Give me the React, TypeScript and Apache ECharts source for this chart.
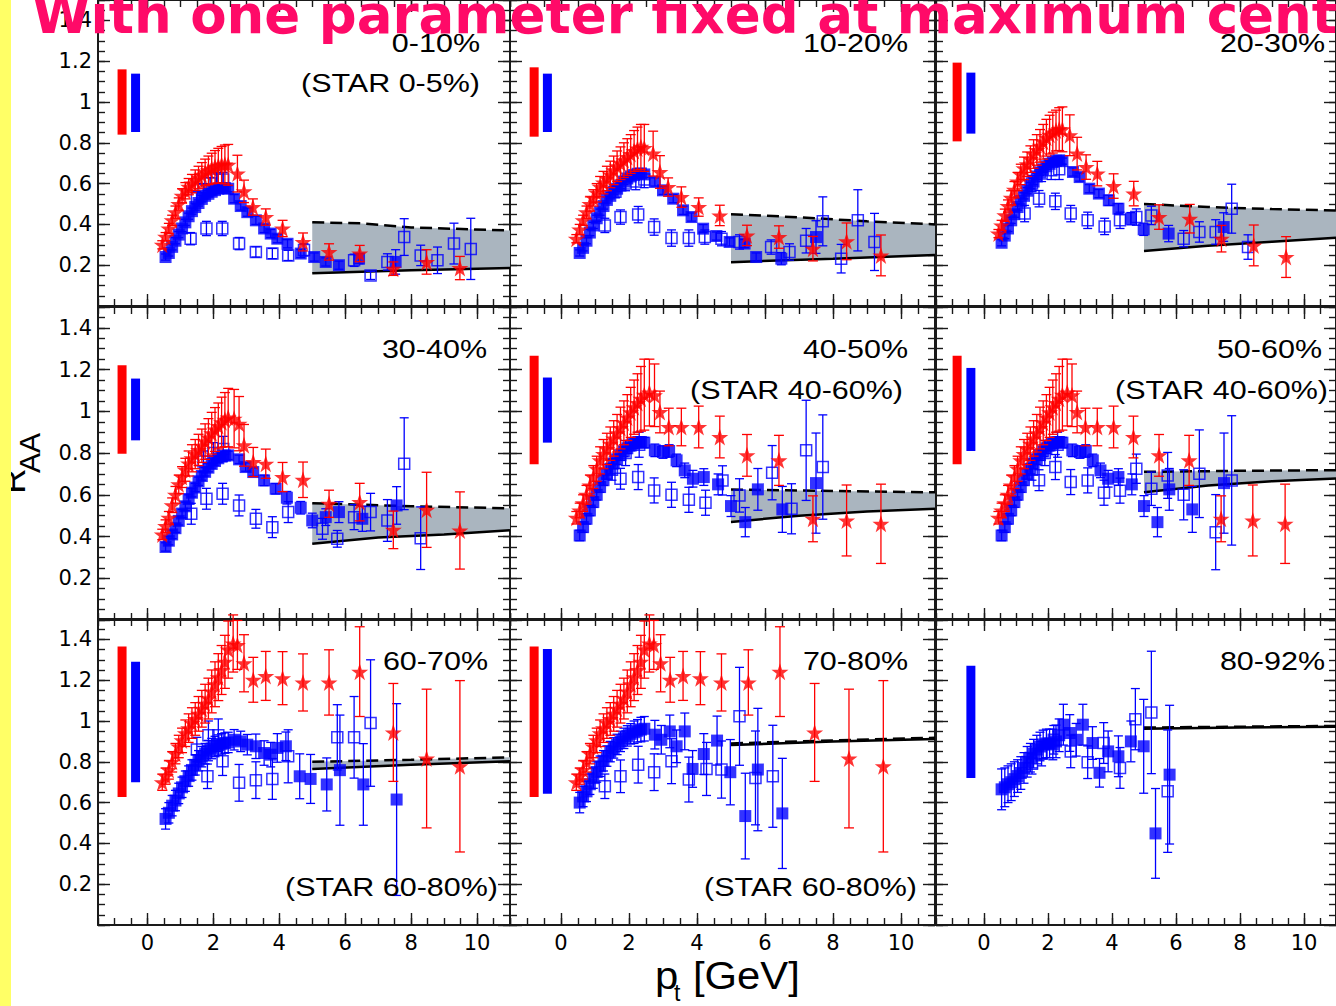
import React, { useEffect, useRef } from "react";
import * as echarts from "echarts";

// ---------- shared axis data ----------
const LOW_PT = [0.45, 0.55, 0.65, 0.75, 0.85, 0.95, 1.05, 1.15, 1.25, 1.35, 1.45, 1.55, 1.65, 1.75, 1.85, 1.95, 2.05, 2.15, 2.25, 2.35, 2.45];
const X_MAJOR_TICKS = [0, 2, 4, 6, 8, 10];
const Y_TICK_VALUES = [0.2, 0.4, 0.6, 0.8, 1, 1.2, 1.4];
const Y_TICK_LABELS = ["0.2", "0.4", "0.6", "0.8", "1", "1.2", "1.4"];
const CENTRALITY = ["0-10%", "10-20%", "20-30%", "30-40%", "40-50%", "50-60%", "60-70%", "70-80%", "80-92%"];
const STAR_NOTE = ["(STAR 0-5%)", "", "", "", "(STAR 40-60%)", "(STAR 40-60%)", "(STAR 60-80%)", "(STAR 60-80%)", ""];

// ---------- panel 1 (0-10%) ----------
const P1_RED_LOW = [0.30, 0.34, 0.38, 0.42, 0.46, 0.50, 0.54, 0.565, 0.585, 0.60, 0.617, 0.63, 0.643, 0.655, 0.665, 0.674, 0.682, 0.688, 0.692, 0.694, 0.692];
const P1_RED_LOW_ERR = [0.02, 0.02, 0.025, 0.025, 0.03, 0.03, 0.035, 0.04, 0.04, 0.045, 0.05, 0.055, 0.06, 0.065, 0.07, 0.075, 0.08, 0.085, 0.09, 0.095, 0.1];
const P1_RED_HIGH = [[2.73, 0.649, 0.09], [2.93, 0.562, 0.055], [3.2, 0.485, 0.04], [3.59, 0.436, 0.04], [4.1, 0.38, 0.04], [4.72, 0.314, 0.044], [5.51, 0.265, 0.04], [6.44, 0.257, 0.04], [7.46, 0.183, 0.033], [8.47, 0.216, 0.06], [9.48, 0.186, 0.057]];
const P1_BLUE_LOW = [null, 0.24, 0.26, 0.29, 0.32, 0.35, 0.38, 0.41, 0.44, 0.465, 0.485, 0.505, 0.525, 0.54, 0.55, 0.56, 0.568, 0.575, 0.578, 0.578, 0.575];
const P1_BLUE_LOW_ERR = [0.015, 0.015, 0.015, 0.015, 0.015, 0.015, 0.015, 0.015, 0.015, 0.015, 0.015, 0.015, 0.015, 0.015, 0.015, 0.015, 0.015, 0.015, 0.015, 0.015, 0.015];
const P1_BLUE_HIGH = [[2.63, 0.526, 0.02], [2.83, 0.49, 0.02], [3.03, 0.46, 0.02], [3.29, 0.42, 0.02], [3.54, 0.38, 0.02], [3.74, 0.355, 0.02], [3.94, 0.33, 0.02], [4.25, 0.305, 0.02], [4.65, 0.257, 0.02], [5.06, 0.24, 0.02], [5.41, 0.216, 0.02], [5.81, 0.2, 0.02], [6.42, 0.232, 0.025], [7.53, 0.216, 0.06]];
const P1_OPEN = [[1.31, 0.33, 0.03], [1.5, 0.53, 0.03], [1.7, 0.57, 0.03], [1.79, 0.38, 0.035], [1.9, 0.6, 0.03], [2.1, 0.62, 0.035], [2.27, 0.38, 0.035], [2.3, 0.62, 0.035], [2.78, 0.306, 0.03], [3.29, 0.265, 0.025], [3.79, 0.257, 0.025], [4.27, 0.248, 0.025], [4.75, 0.275, 0.03], [6.27, 0.224, 0.03], [6.77, 0.15, 0.02], [7.28, 0.216, 0.04], [7.79, 0.338, 0.09], [8.29, 0.248, 0.05], [8.8, 0.224, 0.065], [9.3, 0.306, 0.1], [9.81, 0.28, 0.15]];
const P1_BAND_TOP = [[5, 0.41], [6.5, 0.405], [8, 0.385], [11, 0.37]];
const P1_BAND_BOTTOM = [[5, 0.16], [8, 0.175], [11, 0.186]];
const P1_SYS_RED = [-0.77, 0.84, 1.16];
const P1_SYS_BLUE = [-0.36, 0.853, 1.139];

// ---------- panel 2 (10-20%) ----------
const P2_RED_LOW = [0.33, 0.375, 0.42, 0.46, 0.50, 0.53, 0.555, 0.585, 0.605, 0.625, 0.645, 0.665, 0.685, 0.70, 0.715, 0.73, 0.745, 0.76, 0.772, 0.78, 0.775];
const P2_RED_LOW_ERR = [0.02, 0.025, 0.025, 0.03, 0.035, 0.04, 0.045, 0.05, 0.055, 0.06, 0.065, 0.07, 0.075, 0.08, 0.085, 0.09, 0.095, 0.1, 0.105, 0.11, 0.115];
const P2_RED_HIGH = [[2.71, 0.747, 0.11], [2.91, 0.657, 0.08], [3.15, 0.583, 0.045], [3.54, 0.534, 0.05], [4.05, 0.485, 0.045], [4.67, 0.444, 0.05], [5.47, 0.346, 0.05], [6.41, 0.338, 0.055], [7.41, 0.281, 0.06], [8.4, 0.317, 0.09], [9.41, 0.248, 0.1]];
const P2_BLUE_LOW = [null, 0.26, 0.285, 0.32, 0.36, 0.395, 0.43, 0.46, 0.49, 0.52, 0.54, 0.56, 0.575, 0.59, 0.61, 0.625, 0.635, 0.642, 0.648, 0.65, 0.645];
const P2_BLUE_LOW_ERR = [0.015, 0.015, 0.015, 0.015, 0.015, 0.015, 0.015, 0.015, 0.015, 0.015, 0.015, 0.015, 0.015, 0.015, 0.015, 0.015, 0.015, 0.015, 0.015, 0.015, 0.015];
const P2_BLUE_HIGH = [[2.76, 0.608, 0.02], [3.0, 0.567, 0.02], [3.3, 0.526, 0.02], [3.59, 0.469, 0.02], [3.84, 0.436, 0.02], [4.18, 0.379, 0.02], [4.57, 0.343, 0.02], [4.96, 0.314, 0.02], [5.4, 0.306, 0.02], [5.74, 0.24, 0.02], [6.48, 0.232, 0.03], [7.5, 0.338, 0.08]];
const P2_OPEN = [[1.29, 0.395, 0.035], [1.6, 0.56, 0.03], [1.75, 0.436, 0.035], [1.9, 0.6, 0.035], [2.2, 0.61, 0.04], [2.27, 0.448, 0.04], [2.45, 0.62, 0.04], [2.74, 0.387, 0.04], [3.25, 0.333, 0.04], [3.76, 0.333, 0.04], [4.23, 0.338, 0.035], [4.72, 0.33, 0.035], [5.25, 0.314, 0.035], [6.18, 0.289, 0.035], [6.72, 0.265, 0.04], [7.21, 0.32, 0.06], [7.7, 0.415, 0.12], [8.24, 0.232, 0.07], [8.73, 0.42, 0.15], [9.22, 0.314, 0.14]];
const P2_BAND_TOP = [[5, 0.45], [7, 0.435], [9, 0.415], [11, 0.40]];
const P2_BAND_BOTTOM = [[5, 0.215], [8, 0.232], [11, 0.25]];
const P2_SYS_RED = [-0.79, 0.83, 1.17];
const P2_SYS_BLUE = [-0.40, 0.853, 1.139];

// ---------- panel 3 (20-30%) ----------
const P3_RED_LOW = [0.355, 0.395, 0.445, 0.49, 0.53, 0.57, 0.61, 0.645, 0.675, 0.695, 0.72, 0.745, 0.765, 0.785, 0.805, 0.825, 0.84, 0.85, 0.86, 0.867, 0.866];
const P3_RED_LOW_ERR = [0.02, 0.025, 0.03, 0.03, 0.035, 0.04, 0.045, 0.05, 0.055, 0.06, 0.065, 0.07, 0.075, 0.08, 0.085, 0.09, 0.095, 0.1, 0.1, 0.105, 0.11];
const P3_RED_HIGH = [[2.68, 0.837, 0.1], [2.91, 0.747, 0.08], [3.19, 0.681, 0.06], [3.54, 0.649, 0.06], [4.05, 0.588, 0.06], [4.68, 0.551, 0.06], [5.47, 0.436, 0.06], [6.43, 0.428, 0.07], [7.42, 0.33, 0.065], [8.43, 0.297, 0.1], [9.44, 0.24, 0.1]];
const P3_BLUE_LOW = [null, 0.31, 0.345, 0.38, 0.42, 0.45, 0.485, 0.515, 0.54, 0.565, 0.59, 0.61, 0.635, 0.655, 0.67, 0.685, 0.697, 0.706, 0.712, 0.714, 0.71];
const P3_BLUE_LOW_ERR = [0.015, 0.015, 0.015, 0.015, 0.015, 0.015, 0.015, 0.015, 0.015, 0.015, 0.015, 0.015, 0.015, 0.015, 0.015, 0.015, 0.015, 0.015, 0.015, 0.015, 0.015];
const P3_BLUE_HIGH = [[2.78, 0.657, 0.02], [2.99, 0.632, 0.02], [3.29, 0.575, 0.02], [3.59, 0.551, 0.02], [3.9, 0.518, 0.025], [4.2, 0.477, 0.025], [4.59, 0.428, 0.03], [4.99, 0.376, 0.03], [5.77, 0.355, 0.04], [7.49, 0.387, 0.07]];
const P3_OPEN = [[1.27, 0.453, 0.04], [1.5, 0.6, 0.04], [1.72, 0.526, 0.04], [1.8, 0.65, 0.04], [2.1, 0.665, 0.045], [2.23, 0.513, 0.04], [2.35, 0.67, 0.05], [2.71, 0.453, 0.04], [3.24, 0.42, 0.04], [3.77, 0.39, 0.04], [4.25, 0.42, 0.04], [4.76, 0.436, 0.04], [5.23, 0.444, 0.045], [6.24, 0.33, 0.04], [6.73, 0.363, 0.05], [7.24, 0.363, 0.06], [7.74, 0.477, 0.12], [8.25, 0.289, 0.06]];
const P3_BAND_TOP = [[5, 0.50], [7, 0.485], [9, 0.475], [11, 0.468]];
const P3_BAND_BOTTOM = [[5, 0.27], [7, 0.295], [9, 0.315], [11, 0.335]];
const P3_SYS_RED = [-0.84, 0.807, 1.193];
const P3_SYS_BLUE = [-0.41, 0.845, 1.144];

// ---------- panel 4 (30-40%) ----------
const P4_RED_LOW = [0.41, 0.45, 0.49, 0.55, 0.60, 0.65, 0.685, 0.72, 0.75, 0.775, 0.795, 0.815, 0.835, 0.855, 0.875, 0.895, 0.913, 0.93, 0.948, 0.96, 0.97];
const P4_RED_LOW_ERR = [0.025, 0.03, 0.03, 0.035, 0.04, 0.045, 0.05, 0.055, 0.06, 0.065, 0.07, 0.075, 0.08, 0.085, 0.09, 0.1, 0.105, 0.11, 0.12, 0.13, 0.14];
const P4_RED_HIGH = [[2.63, 0.965, 0.14], [2.78, 0.941, 0.13], [2.93, 0.837, 0.1], [3.21, 0.757, 0.07], [3.59, 0.749, 0.07], [4.1, 0.685, 0.07], [4.72, 0.672, 0.085], [5.51, 0.557, 0.065], [6.44, 0.565, 0.09], [7.46, 0.432, 0.09], [8.47, 0.528, 0.18], [9.48, 0.429, 0.185]];
const P4_BLUE_LOW = [null, 0.35, 0.38, 0.41, 0.44, 0.475, 0.51, 0.545, 0.58, 0.61, 0.635, 0.665, 0.69, 0.71, 0.73, 0.748, 0.762, 0.775, 0.783, 0.788, 0.789];
const P4_BLUE_LOW_ERR = [0.02, 0.02, 0.02, 0.02, 0.02, 0.02, 0.02, 0.02, 0.02, 0.02, 0.02, 0.02, 0.02, 0.02, 0.02, 0.02, 0.02, 0.02, 0.02, 0.02, 0.02];
const P4_BLUE_HIGH = [[2.78, 0.77, 0.02], [2.98, 0.733, 0.02], [3.21, 0.709, 0.02], [3.54, 0.669, 0.025], [3.89, 0.629, 0.025], [4.23, 0.586, 0.03], [4.65, 0.538, 0.03], [5.0, 0.477, 0.035], [5.41, 0.493, 0.04], [5.81, 0.517, 0.05], [6.52, 0.485, 0.06], [7.56, 0.549, 0.09]];
const P4_OPEN = [[1.33, 0.509, 0.05], [1.7, 0.76, 0.05], [1.79, 0.581, 0.05], [2.0, 0.8, 0.05], [2.28, 0.605, 0.05], [2.3, 0.82, 0.06], [2.78, 0.549, 0.05], [3.29, 0.485, 0.045], [3.79, 0.445, 0.05], [4.27, 0.517, 0.05], [5.31, 0.437, 0.05], [5.76, 0.389, 0.04], [6.27, 0.493, 0.06], [6.77, 0.517, 0.09], [7.28, 0.477, 0.1], [7.79, 0.749, 0.22], [8.29, 0.392, 0.15]];
const P4_BAND_TOP = [[5, 0.56], [8, 0.545], [11, 0.535]];
const P4_BAND_BOTTOM = [[5, 0.365], [7, 0.395], [9, 0.41], [11, 0.43]];
const P4_SYS_RED = [-0.77, 0.797, 1.221];
const P4_SYS_BLUE = [-0.36, 0.861, 1.157];

// ---------- panels 5 & 6 (STAR 40-60%) ----------
const P56_RED_LOW = [0.49, 0.525, 0.56, 0.60, 0.645, 0.685, 0.725, 0.765, 0.795, 0.82, 0.845, 0.87, 0.895, 0.92, 0.945, 0.97, 0.995, 1.02, 1.04, 1.06, 1.08];
const P56_RED_LOW_ERR = [0.03, 0.035, 0.04, 0.045, 0.05, 0.055, 0.06, 0.065, 0.07, 0.075, 0.08, 0.085, 0.09, 0.1, 0.105, 0.11, 0.12, 0.13, 0.14, 0.155, 0.17];
const P56_RED_HIGH = [[2.6, 1.09, 0.16], [2.75, 1.077, 0.15], [2.91, 0.997, 0.1], [3.17, 0.925, 0.09], [3.54, 0.925, 0.09], [4.05, 0.925, 0.1], [4.67, 0.877, 0.1], [5.47, 0.789, 0.1], [6.41, 0.765, 0.12], [7.41, 0.485, 0.11], [8.4, 0.477, 0.17], [9.41, 0.461, 0.19]];
const P56_BLUE_LOW = [null, 0.405, 0.445, 0.485, 0.525, 0.565, 0.60, 0.637, 0.67, 0.70, 0.725, 0.75, 0.77, 0.79, 0.808, 0.823, 0.836, 0.846, 0.852, 0.853, 0.85];
const P56_BLUE_LOW_ERR = [0.025, 0.025, 0.025, 0.025, 0.025, 0.025, 0.025, 0.025, 0.025, 0.025, 0.025, 0.025, 0.025, 0.025, 0.025, 0.025, 0.025, 0.025, 0.025, 0.025, 0.025];
const P56_BLUE_HIGH = [[2.76, 0.813, 0.03], [3.0, 0.805, 0.03], [3.18, 0.81, 0.03], [3.4, 0.765, 0.03], [3.64, 0.717, 0.035], [3.88, 0.677, 0.04], [4.2, 0.685, 0.04], [4.62, 0.65, 0.05], [5.0, 0.546, 0.05], [5.42, 0.469, 0.07], [5.79, 0.626, 0.1], [6.51, 0.53, 0.11], [7.5, 0.656, 0.24]];
const P5_OPEN = [[1.5, 0.72, 0.05], [1.75, 0.677, 0.05], [1.9, 0.8, 0.06], [2.27, 0.685, 0.06], [2.3, 0.84, 0.06], [2.74, 0.621, 0.06], [3.25, 0.6, 0.06], [3.76, 0.576, 0.06], [4.25, 0.562, 0.06], [4.75, 0.669, 0.07], [5.25, 0.597, 0.08], [6.21, 0.706, 0.13], [6.78, 0.533, 0.12], [7.21, 0.813, 0.24], [7.7, 0.733, 0.25]];
const P5_BAND_TOP = [[5, 0.625], [8, 0.618], [11, 0.612]];
const P5_BAND_BOTTOM = [[5, 0.47], [7, 0.5], [9, 0.52], [11, 0.533]];
const P5_SYS_RED = [-0.79, 0.746, 1.266];
const P5_SYS_BLUE = [-0.40, 0.85, 1.162];
const P6_OPEN = [[1.5, 0.72, 0.05], [1.72, 0.67, 0.05], [1.9, 0.8, 0.06], [2.23, 0.733, 0.06], [2.3, 0.84, 0.06], [2.71, 0.661, 0.06], [3.24, 0.669, 0.06], [3.75, 0.61, 0.06], [4.25, 0.62, 0.06], [4.76, 0.725, 0.07], [5.23, 0.629, 0.08], [5.74, 0.693, 0.11], [6.24, 0.6, 0.12], [6.73, 0.701, 0.21], [7.24, 0.421, 0.18], [7.74, 0.669, 0.31]];
const P6_BAND_TOP = [[5, 0.71], [8, 0.715], [11, 0.718]];
const P6_BAND_BOTTOM = [[5, 0.612], [7, 0.645], [9, 0.665], [11, 0.678]];
const P6_SYS_RED = [-0.84, 0.746, 1.266];
const P6_SYS_BLUE = [-0.41, 0.81, 1.208];

// ---------- panels 7 & 8 (STAR 60-80%) ----------
const P78_RED_LOW = [0.70, 0.73, 0.76, 0.80, 0.84, 0.875, 0.905, 0.94, 0.965, 0.99, 1.01, 1.035, 1.06, 1.085, 1.11, 1.145, 1.18, 1.215, 1.25, 1.29, 1.35];
const P78_RED_LOW_ERR = [0.04, 0.04, 0.045, 0.05, 0.05, 0.055, 0.06, 0.065, 0.07, 0.075, 0.08, 0.085, 0.09, 0.095, 0.1, 0.105, 0.11, 0.115, 0.12, 0.13, 0.14];
const P78_RED_HIGH = [[2.6, 1.38, 0.14], [2.73, 1.373, 0.12], [2.93, 1.283, 0.14], [3.21, 1.202, 0.11], [3.59, 1.221, 0.12], [4.1, 1.21, 0.13], [4.72, 1.189, 0.14], [5.51, 1.189, 0.16], [6.44, 1.242, 0.22], [7.46, 0.944, 0.24], [8.47, 0.816, 0.34], [9.48, 0.778, 0.42]];
const P7_BLUE_LOW = [null, 0.52, 0.55, 0.585, 0.61, 0.645, 0.675, 0.705, 0.73, 0.76, 0.785, 0.805, 0.825, 0.84, 0.855, 0.865, 0.875, 0.882, 0.888, 0.892, 0.895];
const P7_BLUE_LOW_ERR = [0.05, 0.05, 0.05, 0.05, 0.05, 0.05, 0.05, 0.05, 0.05, 0.05, 0.05, 0.05, 0.05, 0.05, 0.05, 0.05, 0.05, 0.05, 0.05, 0.05, 0.05];
const P7_BLUE_HIGH = [[2.63, 0.908, 0.05], [2.83, 0.9, 0.05], [3.03, 0.884, 0.05], [3.29, 0.876, 0.06], [3.54, 0.843, 0.06], [3.74, 0.835, 0.06], [3.94, 0.868, 0.07], [4.2, 0.876, 0.07], [4.62, 0.729, 0.11], [4.95, 0.716, 0.12], [5.44, 0.689, 0.13], [5.84, 0.759, 0.27], [6.55, 0.689, 0.2], [7.56, 0.615, 0.47]];
const P7_OPEN = [[1.5, 0.86, 0.06], [1.82, 0.729, 0.06], [1.85, 0.93, 0.07], [2.15, 0.93, 0.08], [2.28, 0.803, 0.07], [2.78, 0.697, 0.09], [3.29, 0.71, 0.09], [3.79, 0.716, 0.1], [4.27, 0.827, 0.13], [5.76, 0.92, 0.16], [6.27, 0.92, 0.2], [6.77, 0.99, 0.31]];
const P7_BAND_TOP = [[5, 0.80], [8, 0.81], [11, 0.822]];
const P7_BAND_BOTTOM = [[5, 0.765], [8, 0.785], [11, 0.803]];
const P7_SYS_RED = [-0.77, 0.628, 1.365];
const P7_SYS_BLUE = [-0.36, 0.70, 1.291];
const P8_BLUE_LOW = [null, 0.60, 0.63, 0.655, 0.69, 0.72, 0.75, 0.778, 0.805, 0.828, 0.85, 0.868, 0.885, 0.9, 0.915, 0.927, 0.937, 0.945, 0.952, 0.958, 0.962];
const P8_BLUE_LOW_ERR = [0.05, 0.05, 0.05, 0.05, 0.05, 0.05, 0.05, 0.05, 0.05, 0.05, 0.05, 0.05, 0.05, 0.05, 0.05, 0.05, 0.05, 0.055, 0.055, 0.06, 0.06];
const P8_BLUE_HIGH = [[2.76, 0.933, 0.07], [2.95, 0.908, 0.07], [3.2, 0.949, 0.08], [3.4, 0.876, 0.08], [3.64, 0.949, 0.09], [3.87, 0.765, 0.09], [4.2, 0.838, 0.1], [4.59, 0.904, 0.12], [4.98, 0.749, 0.16], [5.42, 0.534, 0.21], [5.79, 0.762, 0.3], [6.51, 0.547, 0.27]];
const P8_OPEN = [[1.29, 0.68, 0.06], [1.75, 0.729, 0.08], [2.27, 0.786, 0.09], [2.74, 0.749, 0.09], [3.25, 0.803, 0.11], [3.76, 0.713, 0.11], [4.28, 0.765, 0.13], [4.72, 0.762, 0.14], [5.25, 1.023, 0.24], [5.72, 0.721, 0.23], [6.23, 0.729, 0.25]];
const P8_BAND_TOP = [[5, 0.89], [8, 0.905], [11, 0.918]];
const P8_BAND_BOTTOM = [[5, 0.882], [8, 0.9], [11, 0.912]];
const P8_SYS_RED = [-0.79, 0.628, 1.365];
const P8_SYS_BLUE = [-0.40, 0.643, 1.353];

// ---------- panel 9 (80-92%) ----------
const P9_BLUE_LOW = [null, 0.665, 0.675, 0.69, 0.70, 0.715, 0.73, 0.745, 0.77, 0.80, 0.82, 0.84, 0.86, 0.875, 0.885, 0.89, 0.89, 0.885, 0.90, 0.93, null];
const P9_BLUE_LOW_ERR = [0.1, 0.1, 0.095, 0.09, 0.09, 0.085, 0.08, 0.08, 0.075, 0.075, 0.07, 0.07, 0.07, 0.07, 0.07, 0.07, 0.07, 0.075, 0.08, 0.08, 0.08];
const P9_BLUE_HIGH = [[2.48, 0.982, 0.1], [2.68, 0.941, 0.09], [2.88, 0.908, 0.08], [3.09, 0.982, 0.1], [3.39, 0.892, 0.08], [3.61, 0.746, 0.07], [3.88, 0.851, 0.1], [4.2, 0.827, 0.1], [4.59, 0.9, 0.1], [4.99, 0.876, 0.23], [5.36, 0.449, 0.22], [5.8, 0.737, 0.34]];
const P9_OPEN = [[1.5, 0.79, 0.05], [1.8, 0.84, 0.06], [2.18, 0.908, 0.07], [2.71, 0.851, 0.08], [3.24, 0.798, 0.08], [3.74, 0.892, 0.1], [4.25, 0.77, 0.1], [4.73, 1.009, 0.15], [5.23, 1.042, 0.3], [5.74, 0.656, 0.3]];
const P9_BAND_TOP = [[5, 0.968], [8, 0.972], [11, 0.976]];
const P9_BAND_BOTTOM = [[5, 0.962], [8, 0.968], [11, 0.972]];
const P9_SYS_BLUE = [-0.41, 0.721, 1.271];

// ---------- assemble ----------
function lowPts(ys: any[], errs: number[]) {
  const out: number[][] = [];
  LOW_PT.forEach((x, k) => {
    if (ys[k] != null) out.push([x, ys[k], errs[k]]);
  });
  return out;
}

const PANELS = [
  { red: [...lowPts(P1_RED_LOW, P1_RED_LOW_ERR), ...P1_RED_HIGH], blue: [...lowPts(P1_BLUE_LOW, P1_BLUE_LOW_ERR), ...P1_BLUE_HIGH], open: P1_OPEN, top: P1_BAND_TOP, bot: P1_BAND_BOTTOM, sysRed: P1_SYS_RED, sysBlue: P1_SYS_BLUE },
  { red: [...lowPts(P2_RED_LOW, P2_RED_LOW_ERR), ...P2_RED_HIGH], blue: [...lowPts(P2_BLUE_LOW, P2_BLUE_LOW_ERR), ...P2_BLUE_HIGH], open: P2_OPEN, top: P2_BAND_TOP, bot: P2_BAND_BOTTOM, sysRed: P2_SYS_RED, sysBlue: P2_SYS_BLUE },
  { red: [...lowPts(P3_RED_LOW, P3_RED_LOW_ERR), ...P3_RED_HIGH], blue: [...lowPts(P3_BLUE_LOW, P3_BLUE_LOW_ERR), ...P3_BLUE_HIGH], open: P3_OPEN, top: P3_BAND_TOP, bot: P3_BAND_BOTTOM, sysRed: P3_SYS_RED, sysBlue: P3_SYS_BLUE },
  { red: [...lowPts(P4_RED_LOW, P4_RED_LOW_ERR), ...P4_RED_HIGH], blue: [...lowPts(P4_BLUE_LOW, P4_BLUE_LOW_ERR), ...P4_BLUE_HIGH], open: P4_OPEN, top: P4_BAND_TOP, bot: P4_BAND_BOTTOM, sysRed: P4_SYS_RED, sysBlue: P4_SYS_BLUE },
  { red: [...lowPts(P56_RED_LOW, P56_RED_LOW_ERR), ...P56_RED_HIGH], blue: [...lowPts(P56_BLUE_LOW, P56_BLUE_LOW_ERR), ...P56_BLUE_HIGH], open: P5_OPEN, top: P5_BAND_TOP, bot: P5_BAND_BOTTOM, sysRed: P5_SYS_RED, sysBlue: P5_SYS_BLUE },
  { red: [...lowPts(P56_RED_LOW, P56_RED_LOW_ERR), ...P56_RED_HIGH], blue: [...lowPts(P56_BLUE_LOW, P56_BLUE_LOW_ERR), ...P56_BLUE_HIGH], open: P6_OPEN, top: P6_BAND_TOP, bot: P6_BAND_BOTTOM, sysRed: P6_SYS_RED, sysBlue: P6_SYS_BLUE },
  { red: [...lowPts(P78_RED_LOW, P78_RED_LOW_ERR), ...P78_RED_HIGH], blue: [...lowPts(P7_BLUE_LOW, P7_BLUE_LOW_ERR), ...P7_BLUE_HIGH], open: P7_OPEN, top: P7_BAND_TOP, bot: P7_BAND_BOTTOM, sysRed: P7_SYS_RED, sysBlue: P7_SYS_BLUE },
  { red: [...lowPts(P78_RED_LOW, P78_RED_LOW_ERR), ...P78_RED_HIGH], blue: [...lowPts(P8_BLUE_LOW, P8_BLUE_LOW_ERR), ...P8_BLUE_HIGH], open: P8_OPEN, top: P8_BAND_TOP, bot: P8_BAND_BOTTOM, sysRed: P8_SYS_RED, sysBlue: P8_SYS_BLUE },
  { red: [] as number[][], blue: [...lowPts(P9_BLUE_LOW, P9_BLUE_LOW_ERR), ...P9_BLUE_HIGH], open: P9_OPEN, top: P9_BAND_TOP, bot: P9_BAND_BOTTOM, sysRed: null as any, sysBlue: P9_SYS_BLUE },
];

// ---------- layout ----------
const COL_LEFT = [98, 510, 936];
const COL_W = [412, 425, 411];
const ROW_TOP = [0, 307, 619];
const ROW_H = [306, 313, 306];
const LABEL_RIGHT = [480, 908, 1325, 487, 908, 1322, 488, 908, 1325];
const LABEL_BASE = [52, 52, 52, 358, 358, 358, 670, 670, 670];
const NOTE_RIGHT = [480, 0, 0, 0, 903, 1328, 498, 917, 0];
const NOTE_BASE = [92, 0, 0, 0, 399, 399, 896, 896, 0];

const RED = "#ff0000";
const BLUE = "#0000ff";
const FRAME = "#1a1a1a";
const BAND_FILL = "#aab5bf";
const STAR_SYMBOL = "path://M50,0 L61.8,35.1 L98.9,35.1 L68.9,56.8 L80.3,91.9 L50,70.2 L19.7,91.9 L31.1,56.8 L1.1,35.1 L38.2,35.1 Z";
const TICK_FONT = "DejaVu Sans";

function errSeries(data: number[][], color: string, xi: number, yi: number, hw: number, z: number) {
  return {
    type: "custom", xAxisIndex: xi, yAxisIndex: yi, z, silent: true,
    dimensions: ["x", "y", "e"], encode: { x: 0, y: 1 },
    data,
    renderItem: (params: any, api: any) => {
      const x = api.value(0), y = api.value(1), e = api.value(2);
      const t = api.coord([x, y + e]);
      const b = api.coord([x, y - e]);
      const st = { stroke: color, lineWidth: 1.3 };
      return {
        type: "group",
        children: [
          { type: "line", shape: { x1: t[0], y1: t[1], x2: b[0], y2: b[1] }, style: st },
          { type: "line", shape: { x1: t[0] - hw, y1: t[1], x2: t[0] + hw, y2: t[1] }, style: st },
          { type: "line", shape: { x1: b[0] - hw, y1: b[1], x2: b[0] + hw, y2: b[1] }, style: st },
        ],
      };
    },
  };
}

function sysSeries(sys: number[], color: string, xi: number, yi: number) {
  return {
    type: "custom", xAxisIndex: xi, yAxisIndex: yi, z: 2, silent: true,
    dimensions: ["x", "lo", "hi"], encode: { x: 0, y: 1 },
    data: [sys],
    renderItem: (params: any, api: any) => {
      const hi = api.coord([api.value(0), api.value(2)]);
      const lo = api.coord([api.value(0), api.value(1)]);
      return { type: "rect", shape: { x: hi[0] - 4.5, y: hi[1], width: 9, height: lo[1] - hi[1] }, style: { fill: color } };
    },
  };
}

function bandSeries(top: number[][], bot: number[][], xi: number, yi: number) {
  return {
    type: "custom", xAxisIndex: xi, yAxisIndex: yi, z: 1, silent: true,
    data: [top[0]],
    renderItem: (params: any, api: any) => {
      const pts = top.map((p) => api.coord(p)).concat(bot.slice().reverse().map((p) => api.coord(p)));
      return { type: "polygon", shape: { points: pts }, style: { fill: BAND_FILL } };
    },
  };
}

function buildOption() {
  const grid: any[] = [];
  const xAxis: any[] = [];
  const yAxis: any[] = [];
  const series: any[] = [];
  const elements: any[] = [];

  const lineStyle = { color: FRAME, width: 2 };
  const tickStyle = { color: FRAME, width: 1.4 };

  PANELS.forEach((p, i) => {
    const r = Math.floor(i / 3), c = i % 3;
    grid.push({ left: COL_LEFT[c], top: ROW_TOP[r], width: COL_W[c], height: ROW_H[r], containLabel: false });
    const xb = { type: "value", gridIndex: i, min: -1.5, max: 11, splitLine: { show: false } };
    xAxis.push({ ...xb, position: "bottom",
      axisLine: { show: true, onZero: false, lineStyle },
      axisTick: { show: true, inside: true, length: 12, customValues: X_MAJOR_TICKS, lineStyle: tickStyle },
      axisLabel: { show: r === 2, customValues: X_MAJOR_TICKS, fontFamily: TICK_FONT, fontSize: 21, color: "#000", margin: 7 } });
    xAxis.push({ ...xb, position: "bottom", interval: 0.5,
      axisLine: { show: false, onZero: false }, axisLabel: { show: false },
      axisTick: { show: true, inside: true, length: 7, lineStyle: tickStyle } });
    xAxis.push({ ...xb, position: "top",
      axisLine: { show: true, onZero: false, lineStyle },
      axisTick: { show: true, inside: true, length: 12, customValues: X_MAJOR_TICKS, lineStyle: tickStyle },
      axisLabel: { show: false } });
    xAxis.push({ ...xb, position: "top", interval: 0.5,
      axisLine: { show: false, onZero: false }, axisLabel: { show: false },
      axisTick: { show: true, inside: true, length: 7, lineStyle: tickStyle } });

    const yb = { type: "value", gridIndex: i, min: 0, max: 1.5, splitLine: { show: false } };
    yAxis.push({ ...yb, position: "left", interval: 0.2,
      axisLine: { show: true, onZero: false, lineStyle },
      axisTick: { show: true, inside: true, length: 12, lineStyle: tickStyle },
      axisLabel: { show: c === 0, customValues: Y_TICK_VALUES, fontFamily: TICK_FONT, fontSize: 21, color: "#000", margin: 6,
        formatter: (v: number) => { const k = Y_TICK_VALUES.findIndex((t) => Math.abs(t - v) < 1e-6); return k >= 0 ? Y_TICK_LABELS[k] : ""; } } });
    yAxis.push({ ...yb, position: "left", interval: 0.05,
      axisLine: { show: false, onZero: false }, axisLabel: { show: false },
      axisTick: { show: true, inside: true, length: 7, lineStyle: tickStyle } });
    yAxis.push({ ...yb, position: "right", interval: 0.2,
      axisLine: { show: true, onZero: false, lineStyle },
      axisTick: { show: true, inside: true, length: 12, lineStyle: tickStyle },
      axisLabel: { show: false } });
    yAxis.push({ ...yb, position: "right", interval: 0.05,
      axisLine: { show: false, onZero: false }, axisLabel: { show: false },
      axisTick: { show: true, inside: true, length: 7, lineStyle: tickStyle } });

    const xi = 4 * i, yi = 4 * i;
    series.push(bandSeries(p.top, p.bot, xi, yi));
    series.push({ type: "line", xAxisIndex: xi, yAxisIndex: yi, z: 2, silent: true, symbol: "none", data: p.top,
      lineStyle: { color: "#000", width: 2.5, type: [12, 6] } });
    series.push({ type: "line", xAxisIndex: xi, yAxisIndex: yi, z: 2, silent: true, symbol: "none", data: p.bot,
      lineStyle: { color: "#000", width: 2.5 } });
    if (p.sysRed) series.push(sysSeries(p.sysRed, RED, xi, yi));
    if (p.sysBlue) series.push(sysSeries(p.sysBlue, BLUE, xi, yi));

    series.push(errSeries(p.open, BLUE, xi, yi, 4.5, 3));
    series.push({ type: "scatter", xAxisIndex: xi, yAxisIndex: yi, z: 4, silent: true, symbol: "rect", symbolSize: 11,
      data: p.open.map((d) => [d[0], d[1]]),
      itemStyle: { color: "rgba(255,255,255,0)", borderColor: BLUE, borderWidth: 1.5 } });
    series.push(errSeries(p.blue, BLUE, xi, yi, 4.5, 5));
    series.push({ type: "scatter", xAxisIndex: xi, yAxisIndex: yi, z: 6, silent: true, symbol: "rect", symbolSize: 12,
      data: p.blue.map((d) => [d[0], d[1]]), itemStyle: { color: BLUE } });
    if (p.red.length) {
      series.push(errSeries(p.red, RED, xi, yi, 5, 7));
      series.push({ type: "scatter", xAxisIndex: xi, yAxisIndex: yi, z: 8, silent: true, symbol: STAR_SYMBOL, symbolSize: 17,
        data: p.red.map((d) => [d[0], d[1]]), itemStyle: { color: RED } });
    }

    elements.push({ type: "text", x: LABEL_RIGHT[i], y: LABEL_BASE[i] - 9, scaleX: 1.22, z: 50,
      style: { text: CENTRALITY[i], x: 0, y: 0, align: "right", verticalAlign: "middle", fontFamily: "Liberation Sans", fontSize: 25, fill: "#000" } });
    if (STAR_NOTE[i]) {
      elements.push({ type: "text", x: NOTE_RIGHT[i], y: NOTE_BASE[i] - 9, scaleX: 1.22, z: 50,
        style: { text: STAR_NOTE[i], x: 0, y: 0, align: "right", verticalAlign: "middle", fontFamily: "Liberation Sans", fontSize: 25, fill: "#000" } });
    }
  });

  // axis titles
  elements.push({ type: "text", x: 655, y: 976, scaleX: 1.1, z: 50,
    style: { text: "p", x: 0, y: 0, align: "left", verticalAlign: "middle", fontFamily: "Liberation Sans", fontSize: 38, fill: "#000" } });
  elements.push({ type: "text", x: 674, y: 993, z: 50,
    style: { text: "t", x: 0, y: 0, align: "left", verticalAlign: "middle", fontFamily: "Liberation Sans", fontSize: 23, fill: "#000" } });
  elements.push({ type: "text", x: 693, y: 976, scaleX: 1.1, z: 50,
    style: { text: "[GeV]", x: 0, y: 0, align: "left", verticalAlign: "middle", fontFamily: "Liberation Sans", fontSize: 38, fill: "#000" } });
  elements.push({ type: "text", x: 12.5, y: 481, rotation: Math.PI / 2, z: 50,
    style: { text: "R", x: 0, y: 0, align: "center", verticalAlign: "middle", fontFamily: "Liberation Sans", fontSize: 35, fill: "#000" } });
  elements.push({ type: "text", x: 29, y: 453, rotation: Math.PI / 2, z: 50,
    style: { text: "AA", x: 0, y: 0, align: "center", verticalAlign: "middle", fontFamily: "Liberation Sans", fontSize: 30, fill: "#000" } });

  // title overlay + yellow strip
  elements.push({ type: "text", x: 32, y: 14, z: 150,
    style: { text: "With one parameter fixed at maximum centrality", x: 0, y: 0, align: "left", verticalAlign: "middle",
      fontFamily: "DejaVu Sans", fontWeight: "bold", fontSize: 53, fill: "#ff0a68" } });
  elements.push({ type: "rect", z: 200, shape: { x: 0, y: 0, width: 11, height: 1006 }, style: { fill: "#ffff66" } });

  return { animation: false, grid, xAxis, yAxis, series, graphic: { elements } };
}

export default function App() {
  const ref = useRef<HTMLDivElement>(null);
  useEffect(() => {
    document.body.style.margin = "0";
    const chart = echarts.init(ref.current as HTMLDivElement, null, { renderer: "svg" });
    chart.setOption(buildOption() as any);
    return () => chart.dispose();
  }, []);
  return <div ref={ref} style={{ width: 1336, height: 1006, background: "#fff" }} />;
}
